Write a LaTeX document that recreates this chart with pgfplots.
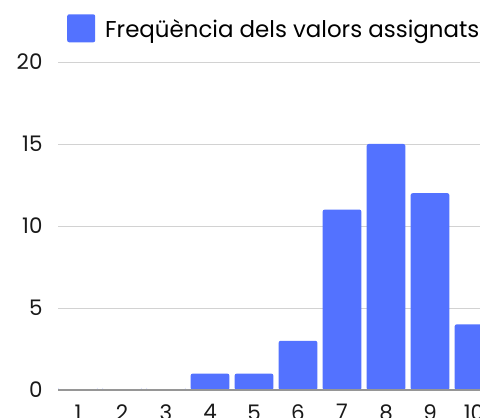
\documentclass[border=0pt]{standalone}
\usepackage{pgfplots}
\pgfplotsset{compat=1.18}
\usepackage{fontspec}
\setmainfont{Poppins}
\definecolor{barblue}{RGB}{83,114,255}
\definecolor{gridgray}{RGB}{210,210,210}
\definecolor{basegray}{RGB}{150,150,150}
\begin{document}
\begin{tikzpicture}
\begin{axis}[
  at={(58bp,28bp)}, anchor=south west,
  scale only axis, width=422bp, height=328bp,
  xmin=0.545, xmax=10.136, ymin=0, ymax=20,
  axis line style={draw=none},
  ytick={0,5,10,15,20},
  xtick={1,...,10},
  major tick length=0pt,
  ymajorgrids, grid style={gridgray, line width=0.8bp},
  /pgf/number format/assume math mode=true,
  tick label style={font=\fontsize{21.5}{25}\selectfont, text=black!90},
  yticklabel style={xshift=-12bp},
  xticklabel style={yshift=-11bp},
  ybar, bar width=0.88, bar shift=0pt,
  clip=false,
  legend style={at={(0.0213,1.146)}, anchor=north west, draw=none, fill=none,
    inner sep=0pt, font=\fontsize{23}{27}\selectfont,
    nodes={inner sep=0pt}},
  legend image code/.code={\fill[barblue] (0bp,-13bp) rectangle (28bp,15bp); \path (38bp,0bp);},
]
\addplot[fill=barblue, draw=none, rounded corners=2bp] coordinates {
  (1,0) (2,0) (3,0) (4,1) (5,1) (6,3) (7,11) (8,15) (9,12) (10,4)};
\addlegendentry{Freqüència dels valors assignats}
\draw[basegray, line width=1.3bp] (axis cs:0.545,0) -- (axis cs:10.136,0);
\end{axis}
\pgfresetboundingbox
\useasboundingbox (0,0) rectangle (480bp,418bp);
\end{tikzpicture}
\end{document}
